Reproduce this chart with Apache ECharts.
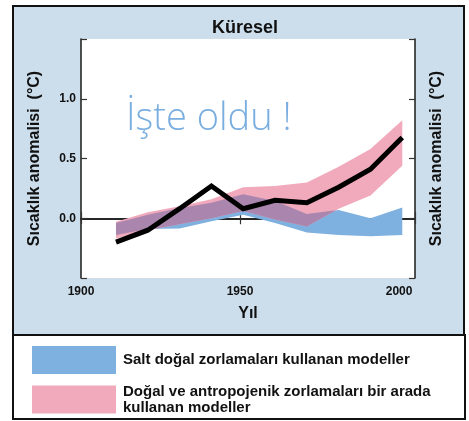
<!DOCTYPE html>
<html>
<head>
<meta charset="utf-8">
<script src="https://cdn.jsdelivr.net/npm/echarts@6/dist/echarts.min.js"></script>
<style>
  html, body { margin: 0; padding: 0; background: #fff; }
  #chart { width: 469px; height: 421px; }
</style>
</head>
<body>
<div id="chart"></div>
<script>
// yıllar (on yıllık noktalar)
const years = [1911, 1921, 1931, 1941, 1951, 1961, 1971, 1981, 1991, 2001];
// gözlem
const observed = [-0.20, -0.10, 0.08, 0.27, 0.08, 0.15, 0.13, 0.26, 0.41, 0.675];
// doğal + antropojenik modeller (pembe bant)
const allLow  = [-0.17, -0.10, -0.05, 0.00, 0.06, -0.01, -0.07, 0.08, 0.19, 0.44];
const allHigh = [-0.03, 0.05, 0.10, 0.16, 0.26, 0.27, 0.30, 0.43, 0.58, 0.82];
// salt doğal modeller (mavi bant)
const natLow  = [-0.14, -0.09, -0.085, -0.025, 0.03, -0.04, -0.12, -0.14, -0.15, -0.14];
const natHigh = [-0.04, 0.03, 0.085, 0.13, 0.20, 0.145, 0.035, 0.07, 0.00, 0.09];
// eksen etiketleri
const xTicks = [1900, 1950, 2000];
const yTicks = [0.0, 0.5, 1.0];

const natName = "Salt doğal zorlamaları kullanan modeller";
const allName = "Doğal ve antropojenik zorlamaları bir arada\nkullanan modeller";

const BLUE = "#7eb0e0";
const PINK = "#f1a9bc";
const PURPLE = "#aa86ae";
const FONT = "Liberation Sans, Arial, sans-serif";

// iki bandın kesişimi (çokgen için köşe noktaları)
function overlapRows() {
  const rows = [];
  const a = [allLow, allHigh, natLow, natHigh];
  for (let i = 0; i < years.length - 1; i++) {
    const ts = [0];
    for (let p = 0; p < 4; p++) {
      for (let q = p + 1; q < 4; q++) {
        const d0 = a[p][i] - a[q][i];
        const d1 = a[p][i + 1] - a[q][i + 1];
        if (d0 * d1 < 0) ts.push(d0 / (d0 - d1));
      }
    }
    if (i === years.length - 2) ts.push(1);
    ts.sort((m, n) => m - n);
    ts.forEach(t => {
      const v = a.map(arr => arr[i] + (arr[i + 1] - arr[i]) * t);
      const top = Math.min(v[1], v[3]);
      let bot = Math.max(v[0], v[2]);
      if (bot > top) bot = top;
      rows.push([years[i] + (years[i + 1] - years[i]) * t, bot, top]);
    });
  }
  return rows;
}

function band(name, rows, color, z) {
  return {
    type: "custom",
    name: name,
    z: z,
    silent: true,
    itemStyle: { color: color },
    data: rows,
    encode: { x: 0, y: [1, 2] },
    renderItem: function (params, api) {
      if (params.dataIndex !== 0) return null;
      const pts = [];
      rows.forEach(r => pts.push(api.coord([r[0], r[2]])));
      for (let i = rows.length - 1; i >= 0; i--) pts.push(api.coord([rows[i][0], rows[i][1]]));
      return { type: "polygon", shape: { points: pts }, style: { fill: color, stroke: null } };
    }
  };
}

const axisLine = { show: true, lineStyle: { color: "#1a1a1a", width: 1.5 } };
const axisTick = { show: true, inside: true, length: 6, lineStyle: { color: "#333", width: 1.2 } };
const labelStyle = { color: "#111", fontSize: 12, fontWeight: "bold", fontFamily: FONT };
const nameStyle = { color: "#111", fontSize: 16, fontWeight: "bold", fontFamily: FONT };
const yName = "Sıcaklık anomalisi  (°C)";

const option = {
  animation: false,
  backgroundColor: "#fff",
  title: {
    text: "Küresel",
    left: 207,
    top: 14,
    textStyle: { color: "#111", fontSize: 18, fontWeight: "bold", fontFamily: FONT }
  },
  graphic: [
    { type: "rect", z: -10, shape: { x: 13, y: 6, width: 451, height: 329 },
      style: { fill: "#ccdeeb", stroke: "#111", lineWidth: 2 } },
    { type: "rect", z: -10, shape: { x: 13, y: 335, width: 452, height: 84 },
      style: { fill: "#fff", stroke: "#111", lineWidth: 2 } },
    { type: "text", z: 10, left: 126, top: 100,
      style: { text: "İşte oldu !", fill: "#7aaee0", font: '300 38px "Open Sans", sans-serif' } }
  ],
  legend: {
    left: 32,
    top: 346,
    padding: 0,
    height: 75,
    orient: "vertical",
    itemWidth: 84,
    itemHeight: 28,
    itemGap: 8,
    selectedMode: false,
    textStyle: { color: "#111", fontSize: 15, fontWeight: "bold", fontFamily: FONT, lineHeight: 16, padding: [3, 0, 0, 2] },
    data: [
      { name: natName, icon: "rect" },
      { name: allName, icon: "rect" }
    ]
  },
  grid: {
    left: 81, right: 54, top: 39, bottom: 143,
    show: true, backgroundColor: "#fff", borderWidth: 0
  },
  xAxis: [
    {
      type: "value", position: "bottom", min: 1900, max: 2005, interval: 50,
      axisLine: axisLine, axisTick: axisTick, splitLine: { show: false },
      axisLabel: Object.assign({ margin: 8, formatter: v => (xTicks.includes(v) ? String(v) : "") }, labelStyle),
      name: "Yıl", nameLocation: "middle", nameGap: 28, nameTextStyle: nameStyle
    },
    {
      type: "value", position: "top", min: 1900, max: 2005, interval: 50,
      axisLine: axisLine, axisTick: axisTick, splitLine: { show: false },
      axisLabel: { show: false }
    }
  ],
  yAxis: [
    {
      type: "value", position: "left", min: -0.5, max: 1.5, interval: 0.5,
      axisLine: axisLine, axisTick: axisTick, splitLine: { show: false },
      axisLabel: Object.assign({ margin: 5, formatter: v => (yTicks.some(t => Math.abs(t - v) < 1e-9) ? v.toFixed(1) : "") }, labelStyle),
      name: yName, nameLocation: "middle", nameRotate: 90, nameGap: 38, nameTextStyle: nameStyle
    },
    {
      type: "value", position: "right", min: -0.5, max: 1.5, interval: 0.5,
      axisLine: axisLine, axisTick: axisTick, splitLine: { show: false },
      axisLabel: { show: false },
      name: yName, nameLocation: "middle", nameRotate: 90, nameGap: 14, nameTextStyle: nameStyle
    }
  ],
  series: [
    band(natName, years.map((y, i) => [y, natLow[i], natHigh[i]]), BLUE, 1),
    band(allName, years.map((y, i) => [y, allLow[i], allHigh[i]]), PINK, 2),
    band("overlap", overlapRows(), PURPLE, 3),
    {
      type: "line",
      name: "Gözlem",
      z: 5,
      silent: true,
      showSymbol: false,
      data: years.map((y, i) => [y, observed[i]]),
      lineStyle: { color: "#000", width: 5, join: "miter" }
    }
  ]
};

const chart = echarts.init(document.getElementById("chart"));
chart.setOption(option);
</script>
</body>
</html>
